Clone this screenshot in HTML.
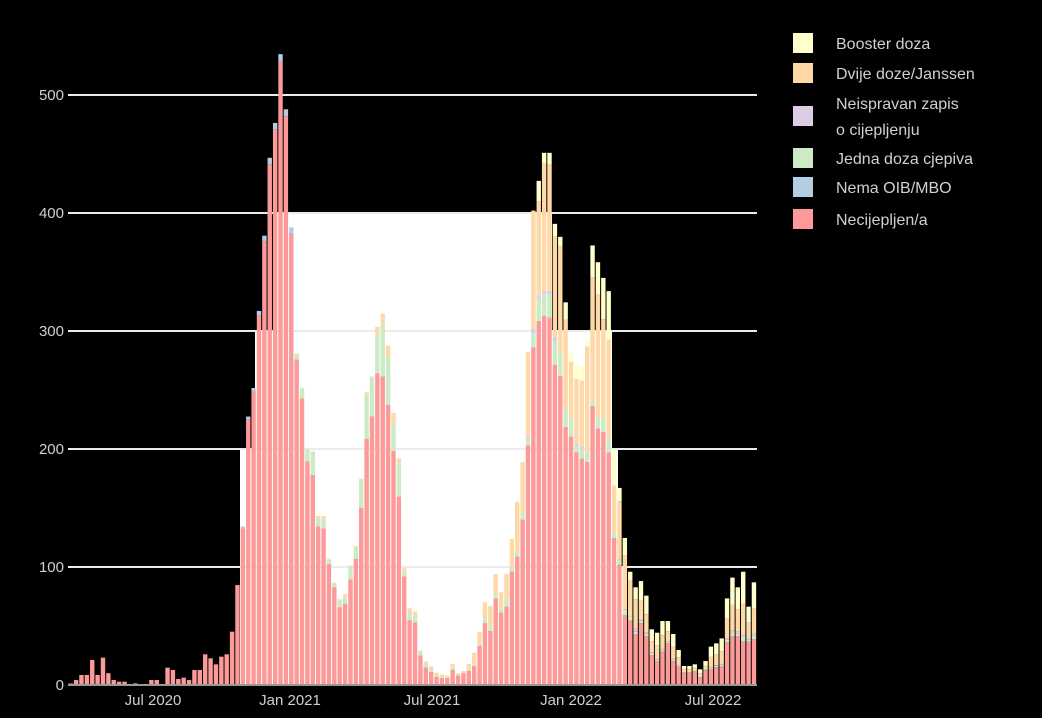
<!DOCTYPE html>
<html><head><meta charset="utf-8">
<style>
html,body{margin:0;padding:0;background:#000;}
svg{display:block;}
text{font-family:"Liberation Sans",sans-serif;fill:#d0d0d0;}
</style></head>
<body>
<svg id="s" width="1042" height="718" xmlns="http://www.w3.org/2000/svg">
<rect width="1042" height="718" fill="#000"/>
<path d="M240,685 L240,449 L255,449 L255,330 L275,330 L275,213 L552,213 L552,330 L612,330 L612,449 L618,449 L618,567 L624,567 L624,685 Z" fill="#fff"/>
<g id="grid"></g>
<g id="bars"></g>
<line x1="68" y1="685" x2="757" y2="685" stroke="#999" stroke-width="2"/>
<g font-size="15" text-anchor="end">
<text x="64" y="690">0</text>
<text x="64" y="572">100</text>
<text x="64" y="454">200</text>
<text x="64" y="336">300</text>
<text x="64" y="218">400</text>
<text x="64" y="100">500</text>
</g>
<g font-size="15" text-anchor="middle">
<text x="153" y="705">Jul 2020</text>
<text x="290" y="705">Jan 2021</text>
<text x="432" y="705">Jul 2021</text>
<text x="571" y="705">Jan 2022</text>
<text x="713" y="705">Jul 2022</text>
</g>
<g font-size="16">
<rect x="793" y="33" width="20" height="20" fill="#ffffcc"/><text x="836" y="49">Booster doza</text>
<rect x="793" y="63" width="20" height="20" fill="#fed9a6"/><text x="836" y="79">Dvije doze/Janssen</text>
<rect x="793" y="106" width="20" height="20" fill="#decbe4"/><text x="836" y="109">Neispravan zapis</text><text x="836" y="135">o cijepljenju</text>
<rect x="793" y="148" width="20" height="20" fill="#ccebc5"/><text x="836" y="164">Jedna doza cjepiva</text>
<rect x="793" y="177" width="20" height="20" fill="#b3cde3"/><text x="836" y="193">Nema OIB/MBO</text>
<rect x="793" y="209" width="20" height="20" fill="#fb9a99"/><text x="836" y="225">Necijepljen/a</text>
</g>
</svg>
<script>
var NS="http://www.w3.org/2000/svg";
var grid=document.getElementById("grid");
[567,449,331,213,95].forEach(function(y){
 var l=document.createElementNS(NS,"line");
 l.setAttribute("x1",68);l.setAttribute("x2",757);l.setAttribute("y1",y);l.setAttribute("y2",y);
 l.setAttribute("stroke","#ececec");l.setAttribute("stroke-width","2");grid.appendChild(l);
});
// [red, blue, green, purple, orange, yellow]
var early=[13,42,85,85,212,85,232,100,42,28,28,8,14,3,3,42,42,5,147,127,51,62,42,127,127,260,226,175,240,260,452,847,1344,2275,2517,3170,3808,4468,4763,5346,4879,3879];
var D=[];
early.forEach(function(v,i){var b=i>=32?Math.round(v*0.012):0;D.push([v-b,b,0,0,0,0]);});
var mid=[[2760,48,0],[2430,85,0],[1895,105,0],[1780,200,0],[1343,70,20],[1327,85,20],[1025,40,5],[830,30,7],[660,60,7],[690,50,29],[895,110,9],[1070,100,6],[1502,240,6],[2088,380,13],[2278,337,0],[2643,323,70],[2615,450,83],[2376,400,100],[1983,230,93],[1597,290,33],[920,40,30],[550,70,30],[530,60,31],[250,35,6],[150,30,20],[110,20,28],[70,15,20],[60,15,14]];
mid.forEach(function(a){D.push([a[0],0,a[1],0,a[2],0]);});
var late=[[60,10,0,10,0],[130,15,0,33,0],[80,0,0,18,0],[100,0,0,19,0],[120,10,0,48,0],[163,10,0,100,0],[333,15,0,103,0],[525,40,0,138,0],[460,30,0,178,0],[733,45,0,163,0],[615,30,0,141,0],[667,55,0,219,0],[964,30,0,243,0],[1089,40,0,423,0],[1403,60,0,427,0],[2032,50,20,717,0],[2863,120,40,997,0],[3086,190,20,800,176],[3130,180,30,1080,90],[3115,200,30,1065,100],[2715,200,30,853,110],[2620,200,0,900,78],[2187,150,0,760,146],[2107,150,0,486,85],[1973,50,20,550,116],[1920,80,20,560,120],[1890,80,0,900,58],[2365,40,0,1047,273],[2175,90,0,1045,273],[2145,120,0,835,350],[1973,125,0,830,410],[1246,50,0,395,297],[1018,49,0,490,113],[593,45,0,460,148],[545,35,0,310,70],[432,20,26,250,100]];
late.forEach(function(a){D.push([a[0],0,a[1],a[2],a[3],a[4]]);});
var tail=[[881,523],[757,415],[472,254],[443,203],[542,282],[542,353],[432,203],[297,161],[161,99],[161,99],[175,110],[133,60],[203,120],[325,136],[353,150],[395,161],[734,362],[910,415],[828,415],[960,367],[664,367],[870,390]];
tail.forEach(function(a){var r=a[0]-a[1];D.push([a[1],0,r*0.06,r*0.03,r*0.45,r*0.46]);});
var cols=["#fb9a99","#b3cde3","#ccebc5","#decbe4","#fed9a6","#ffffcc"];
var g=document.getElementById("bars");
var k=0.118;
D.forEach(function(d,i){
 var x=68+i*5.38+0.5, y=685;
 for(var j=0;j<6;j++){
  var h=d[j]*k; if(h<=0)continue;
  var r=document.createElementNS(NS,"rect");
  r.setAttribute("x",x.toFixed(2));r.setAttribute("width","4.4");
  r.setAttribute("y",(y-h).toFixed(2));r.setAttribute("height",h.toFixed(2));
  r.setAttribute("fill",cols[j]);g.appendChild(r);y-=h;
 }
});
</script>
</body></html>
